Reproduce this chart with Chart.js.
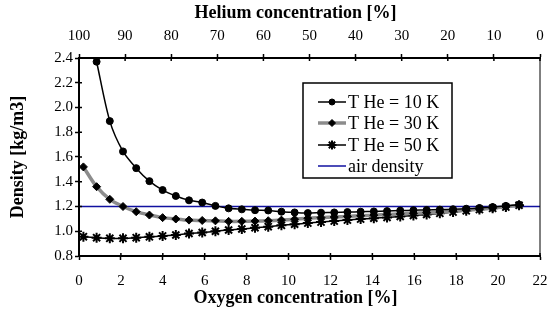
<!DOCTYPE html>
<html>
<head>
<meta charset="utf-8">
<script src="https://cdn.jsdelivr.net/npm/chart.js@4.4.0/dist/chart.umd.min.js"></script>
<style>
  html, body { margin: 0; padding: 0; background: #fff; }
  #wrap { width: 547px; height: 322px; }
</style>
</head>
<body>
<div id="wrap"><canvas id="c"></canvas></div>
<script>
'use strict';

/* ── Data ──────────────────────────────────────────────── */
// oxygen concentration of each sample [%]
const oxygen = [0.21, 0.84, 1.47, 2.10, 2.73, 3.36, 3.99, 4.62, 5.25, 5.88,
  6.51, 7.14, 7.77, 8.40, 9.03, 9.66, 10.29, 10.92, 11.55, 12.18,
  12.81, 13.44, 14.07, 14.70, 15.33, 15.96, 16.59, 17.22, 17.85, 18.48,
  19.11, 19.74, 20.37, 21.00];

const tHe10 = [null, 2.37, 1.89, 1.645, 1.51, 1.405, 1.333, 1.285, 1.25, 1.232,
  1.205, 1.185, 1.177, 1.17, 1.168, 1.158, 1.152, 1.147, 1.15, 1.152,
  1.155, 1.158, 1.16, 1.163, 1.167, 1.17, 1.172, 1.175, 1.178, 1.182,
  1.188, 1.195, 1.205, 1.215];

const tHe30 = [1.52, 1.36, 1.258, 1.2, 1.158, 1.131, 1.11, 1.099, 1.09, 1.087,
  1.084, 1.08, 1.08, 1.082, 1.085, 1.09, 1.097, 1.105, 1.11, 1.115,
  1.12, 1.125, 1.13, 1.135, 1.14, 1.145, 1.15, 1.155, 1.162, 1.17,
  1.178, 1.187, 1.197, 1.21];

const tHe50 = [0.956, 0.948, 0.943, 0.943, 0.948, 0.955, 0.962, 0.97, 0.982, 0.99,
  1.0, 1.01, 1.018, 1.028, 1.037, 1.048, 1.057, 1.066, 1.074, 1.082,
  1.09, 1.098, 1.105, 1.112, 1.12, 1.127, 1.135, 1.145, 1.155, 1.165,
  1.175, 1.185, 1.195, 1.21];

const airX = [0, 22];
const airY = [1.2, 1.2];

const seriesNames = ['T He = 10 K', 'T He = 30 K', 'T He = 50 K', 'air density'];
const xTitle = 'Oxygen concentration [%]';
const x2Title = 'Helium concentration [%]';

const pts = (xs, ys) => xs.map((x, i) => ({ x, y: ys[i] }));

/* ── Styling helpers ───────────────────────────────────── */
const SERIF = "'Liberation Serif', 'Times New Roman', serif";
const tickFont = { family: SERIF, size: 15 };
const titleFont = { family: SERIF, size: 18, weight: 'bold' };

// keep the plot area fixed: no extra room for overhanging end labels
const fitX = h => s => { s.height = h; s.paddingLeft = 0; s.paddingRight = 0; };

// Excel-style tick marks that cross the axis line + plot frame + titles + legend box
const frame = {
  id: 'frame',
  afterDraw(chart) {
    const { ctx, chartArea: a, scales } = chart;
    ctx.save();
    ctx.strokeStyle = '#000';
    ctx.lineWidth = 1;
    ctx.strokeRect(a.left, a.top, a.right - a.left, a.bottom - a.top);

    ctx.lineWidth = 1.5;
    ctx.beginPath();
    scales.x.ticks.forEach(t => {
      const px = scales.x.getPixelForValue(t.value);
      ctx.moveTo(px, a.bottom); ctx.lineTo(px, a.bottom - 3);
    });
    scales.x2.ticks.forEach(t => {
      const px = scales.x2.getPixelForValue(t.value);
      ctx.moveTo(px, a.top); ctx.lineTo(px, a.top + 3);
    });
    scales.y.ticks.forEach(t => {
      const py = scales.y.getPixelForValue(t.value);
      ctx.moveTo(a.left, py); ctx.lineTo(a.left + 3, py);
    });
    ctx.stroke();

    // horizontal axis titles (sit a little left of the plot centre, as in the original)
    const cx = (a.left + a.right) / 2 - 14;
    ctx.fillStyle = '#000';
    ctx.font = `bold 18px ${SERIF}`;
    ctx.textAlign = 'center';
    ctx.textBaseline = 'middle';
    ctx.fillText(x2Title, cx, 13);
    ctx.fillText(xTitle, cx, 298);

    // legend
    const L = a.left + 224, T = a.top + 25, W = 149, H = 95;
    ctx.fillStyle = '#fff';
    ctx.fillRect(L, T, W, H);
    ctx.lineWidth = 1.5;
    ctx.strokeRect(L, T, W, H);
    const rows = [T + 19, T + 40, T + 62, T + 83];
    chart.data.datasets.forEach((ds, i) => {
      const y = rows[i];
      ctx.beginPath();
      ctx.strokeStyle = ds.borderColor;
      ctx.lineWidth = ds.borderWidth;
      ctx.moveTo(L + 15, y); ctx.lineTo(L + 43, y);
      ctx.stroke();
      if (ds.pointRadius) {
        ctx.fillStyle = ds.pointBackgroundColor;
        ctx.strokeStyle = ds.pointBorderColor;
        ctx.lineWidth = ds.pointBorderWidth;
        Chart.helpers.drawPoint(ctx, {
          pointStyle: ds.pointStyle, radius: ds.pointRadius - 0.5, borderWidth: ds.pointBorderWidth
        }, L + 29, y);
      }
      ctx.fillStyle = '#000';
      ctx.font = `18px ${SERIF}`;
      ctx.textAlign = 'left';
      ctx.textBaseline = 'middle';
      ctx.fillText(seriesNames[i], L + 45, y + 1);
    });
    ctx.restore();
  }
};

/* ── Chart ─────────────────────────────────────────────── */
new Chart(document.getElementById('c'), {
  type: 'scatter',
  data: {
    datasets: [
      {
        label: seriesNames[0], data: pts(oxygen, tHe10), showLine: true,
        borderColor: '#000', borderWidth: 1.5,
        pointStyle: 'circle', pointRadius: 3.5, pointBackgroundColor: '#000',
        pointBorderColor: '#000', pointBorderWidth: 1
      },
      {
        label: seriesNames[1], data: pts(oxygen, tHe30), showLine: true,
        borderColor: '#8c8c8c', borderWidth: 3.5,
        pointStyle: 'rectRot', pointRadius: 4, pointBackgroundColor: '#000',
        pointBorderColor: '#000', pointBorderWidth: 1
      },
      {
        label: seriesNames[2], data: pts(oxygen, tHe50), showLine: true,
        borderColor: '#000', borderWidth: 1.5,
        pointStyle: 'star', pointRadius: 5, pointBackgroundColor: '#000',
        pointBorderColor: '#000', pointBorderWidth: 2
      },
      {
        label: seriesNames[3], data: pts(airX, airY), showLine: true,
        borderColor: '#1010a0', borderWidth: 1.5, pointRadius: 0
      }
    ]
  },
  options: {
    responsive: true,
    maintainAspectRatio: false,
    animation: false,
    layout: { autoPadding: false, padding: { left: 0, right: 7, top: 0, bottom: 0 } },
    plugins: { legend: { display: false }, tooltip: { enabled: false } },
    elements: { line: { tension: 0.3 } },
    scales: {
      x: {
        type: 'linear', position: 'bottom', min: 0, max: 22,
        afterFit: fitX(66),
        ticks: { stepSize: 2, font: tickFont, color: '#000', padding: 12, maxRotation: 0 },
        grid: { drawOnChartArea: false, color: '#000', tickLength: 4, tickWidth: 1.5 },
        border: { color: '#000', width: 2 },
        title: { display: false }
      },
      x2: {
        type: 'linear', position: 'top', min: 0, max: 100, reverse: true, display: true,
        afterFit: fitX(58),
        ticks: { stepSize: 10, font: tickFont, color: '#000', padding: 9, maxRotation: 0 },
        grid: { drawOnChartArea: false, color: '#000', tickLength: 4, tickWidth: 1.5 },
        border: { color: '#000', width: 2 },
        title: { display: false }
      },
      y: {
        type: 'linear', min: 0.8, max: 2.4,
        afterFit: s => { s.width = 79; },
        ticks: { stepSize: 0.2, font: tickFont, color: '#000', padding: 2,
          callback: v => v.toFixed(1) },
        grid: { drawOnChartArea: false, color: '#000', tickLength: 4, tickWidth: 1.5 },
        border: { color: '#000', width: 2 },
        title: { display: true, text: 'Density [kg/m3]', font: titleFont, color: '#000',
          padding: { top: 8, bottom: 0 } }
      }
    }
  },
  plugins: [frame]
});
</script>
</body>
</html>
